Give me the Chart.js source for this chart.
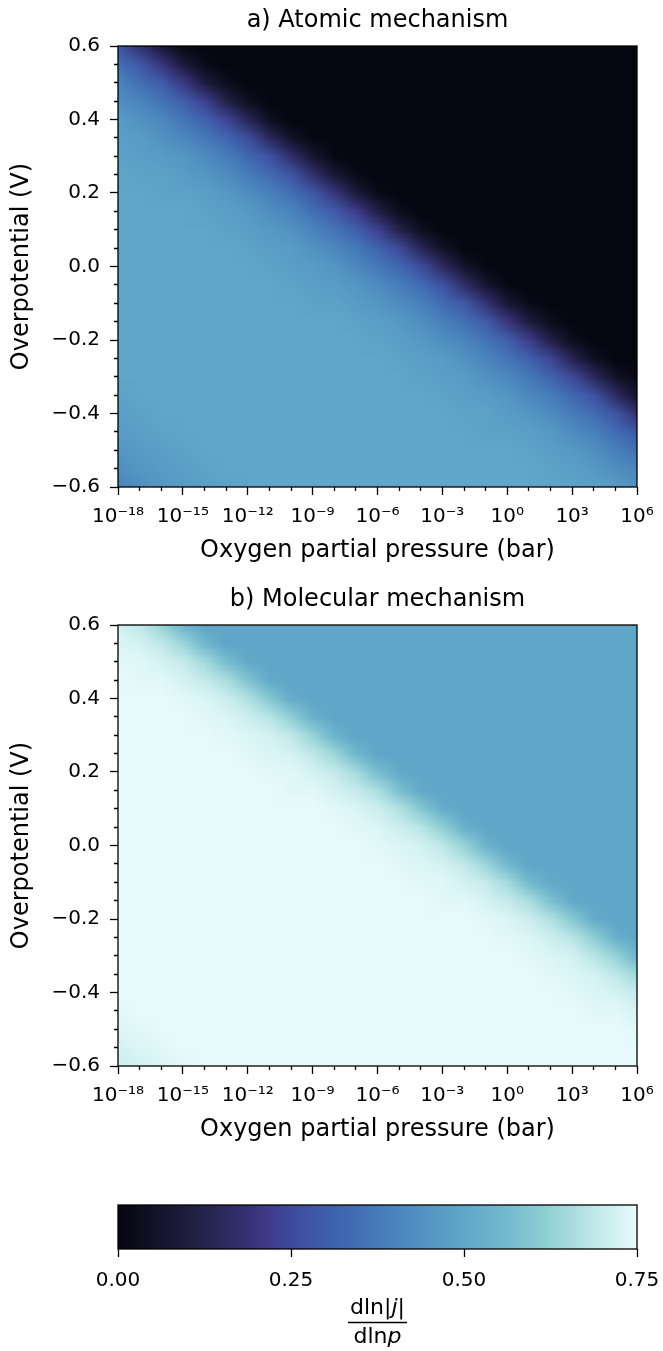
<!DOCTYPE html>
<html>
<head>
<meta charset="utf-8">
<script src="https://cdn.jsdelivr.net/npm/chart.js@4.4.0/dist/chart.umd.min.js"></script>
<style>
body { margin: 0; background: #fff; width: 663px; height: 1351px; position: relative; overflow: hidden; }
canvas { position: absolute; left: 0; }
</style>
</head>
<body>
<canvas id="atomicChart" width="663" height="571" style="top:0px"></canvas>
<canvas id="molecularChart" width="663" height="571" style="top:579px"></canvas>
<canvas id="colorbarChart" width="663" height="201" style="top:1150px"></canvas>
<script>
// grid nodes: log10 of oxygen pressure (columns) and overpotential (rows, top to bottom)
var exponents = [-18, -17, -16, -15, -14, -13, -12, -11, -10, -9, -8, -7, -6, -5, -4, -3, -2, -1, 0, 1, 2, 3, 4, 5, 6];
var potentials = [0.6, 0.55, 0.5, 0.45, 0.4, 0.35, 0.3, 0.25, 0.2, 0.15, 0.1, 0.05, 0, -0.05, -0.1, -0.15, -0.2, -0.25, -0.3, -0.35, -0.4, -0.45, -0.5, -0.55, -0.6];

// d ln|j| / d ln p, one row per potential
var atomicSlope = [
    [0.28,0.18,0.08,0.01,0,0,0,0,0,0,0,0,0,0,0,0,0,0,0,0,0,0,0,0,0],
    [0.35,0.29,0.20,0.09,0.02,0,0,0,0,0,0,0,0,0,0,0,0,0,0,0,0,0,0,0,0],
    [0.40,0.35,0.30,0.21,0.10,0.03,0,0,0,0,0,0,0,0,0,0,0,0,0,0,0,0,0,0,0],
    [0.43,0.40,0.36,0.31,0.23,0.12,0.04,0,0,0,0,0,0,0,0,0,0,0,0,0,0,0,0,0,0],
    [0.47,0.44,0.41,0.36,0.32,0.24,0.14,0.04,0,0,0,0,0,0,0,0,0,0,0,0,0,0,0,0,0],
    [0.48,0.47,0.44,0.41,0.37,0.33,0.26,0.15,0.05,0.01,0,0,0,0,0,0,0,0,0,0,0,0,0,0,0],
    [0.49,0.48,0.47,0.45,0.42,0.38,0.33,0.27,0.17,0.07,0.01,0,0,0,0,0,0,0,0,0,0,0,0,0,0],
    [0.50,0.49,0.49,0.47,0.45,0.42,0.38,0.34,0.28,0.18,0.08,0.02,0,0,0,0,0,0,0,0,0,0,0,0,0],
    [0.50,0.50,0.49,0.49,0.48,0.46,0.43,0.39,0.35,0.29,0.20,0.09,0.02,0,0,0,0,0,0,0,0,0,0,0,0],
    [0.50,0.50,0.50,0.50,0.49,0.48,0.46,0.43,0.40,0.35,0.30,0.22,0.11,0.03,0,0,0,0,0,0,0,0,0,0,0],
    [0.50,0.50,0.50,0.50,0.50,0.49,0.48,0.46,0.44,0.40,0.36,0.31,0.23,0.12,0.04,0,0,0,0,0,0,0,0,0,0],
    [0.50,0.50,0.50,0.50,0.50,0.50,0.49,0.48,0.47,0.44,0.41,0.37,0.32,0.25,0.14,0.05,0,0,0,0,0,0,0,0,0],
    [0.50,0.50,0.50,0.50,0.50,0.50,0.50,0.49,0.48,0.47,0.45,0.41,0.37,0.33,0.26,0.16,0.06,0.01,0,0,0,0,0,0,0],
    [0.50,0.50,0.50,0.50,0.50,0.50,0.50,0.50,0.49,0.48,0.47,0.45,0.42,0.38,0.34,0.27,0.17,0.07,0.01,0,0,0,0,0,0],
    [0.50,0.50,0.50,0.50,0.50,0.50,0.50,0.50,0.50,0.49,0.49,0.47,0.45,0.42,0.39,0.34,0.29,0.19,0.08,0.02,0,0,0,0,0],
    [0.50,0.50,0.50,0.50,0.50,0.50,0.50,0.50,0.50,0.50,0.50,0.49,0.48,0.46,0.43,0.39,0.35,0.30,0.20,0.10,0.03,0,0,0,0],
    [0.50,0.50,0.50,0.50,0.50,0.50,0.50,0.50,0.50,0.50,0.50,0.50,0.49,0.48,0.46,0.43,0.40,0.36,0.31,0.22,0.11,0.03,0,0,0],
    [0.50,0.50,0.50,0.50,0.50,0.50,0.50,0.50,0.50,0.50,0.50,0.50,0.50,0.49,0.48,0.47,0.44,0.40,0.36,0.31,0.24,0.13,0.04,0,0],
    [0.50,0.50,0.50,0.50,0.50,0.50,0.50,0.50,0.50,0.50,0.50,0.50,0.50,0.50,0.49,0.48,0.47,0.44,0.41,0.37,0.32,0.25,0.15,0.05,0.01],
    [0.49,0.50,0.50,0.50,0.50,0.50,0.50,0.50,0.50,0.50,0.50,0.50,0.50,0.50,0.50,0.49,0.48,0.47,0.45,0.41,0.38,0.33,0.27,0.16,0.06],
    [0.48,0.49,0.50,0.50,0.50,0.50,0.50,0.50,0.50,0.50,0.50,0.50,0.50,0.50,0.50,0.50,0.49,0.49,0.47,0.45,0.42,0.38,0.34,0.28,0.18],
    [0.47,0.48,0.49,0.50,0.50,0.50,0.50,0.50,0.50,0.50,0.50,0.50,0.50,0.50,0.50,0.50,0.50,0.49,0.49,0.48,0.46,0.42,0.39,0.34,0.29],
    [0.45,0.47,0.48,0.49,0.50,0.50,0.50,0.50,0.50,0.50,0.50,0.50,0.50,0.50,0.50,0.50,0.50,0.50,0.50,0.49,0.48,0.46,0.43,0.39,0.35],
    [0.43,0.45,0.47,0.48,0.49,0.50,0.50,0.50,0.50,0.50,0.50,0.50,0.50,0.50,0.50,0.50,0.50,0.50,0.50,0.50,0.49,0.48,0.46,0.43,0.40],
    [0.40,0.43,0.45,0.47,0.48,0.49,0.50,0.50,0.50,0.50,0.50,0.50,0.50,0.50,0.50,0.50,0.50,0.50,0.50,0.50,0.50,0.49,0.48,0.47,0.44]
];

var molecularSlope = [
    [0.72,0.69,0.63,0.54,0.50,0.50,0.50,0.50,0.50,0.50,0.50,0.50,0.50,0.50,0.50,0.50,0.50,0.50,0.50,0.50,0.50,0.50,0.50,0.50,0.50],
    [0.73,0.72,0.69,0.64,0.55,0.50,0.50,0.50,0.50,0.50,0.50,0.50,0.50,0.50,0.50,0.50,0.50,0.50,0.50,0.50,0.50,0.50,0.50,0.50,0.50],
    [0.74,0.74,0.72,0.70,0.65,0.57,0.51,0.50,0.50,0.50,0.50,0.50,0.50,0.50,0.50,0.50,0.50,0.50,0.50,0.50,0.50,0.50,0.50,0.50,0.50],
    [0.75,0.74,0.74,0.72,0.70,0.66,0.59,0.51,0.50,0.50,0.50,0.50,0.50,0.50,0.50,0.50,0.50,0.50,0.50,0.50,0.50,0.50,0.50,0.50,0.50],
    [0.75,0.75,0.75,0.74,0.73,0.71,0.67,0.60,0.52,0.50,0.50,0.50,0.50,0.50,0.50,0.50,0.50,0.50,0.50,0.50,0.50,0.50,0.50,0.50,0.50],
    [0.75,0.75,0.75,0.75,0.74,0.73,0.71,0.68,0.62,0.53,0.50,0.50,0.50,0.50,0.50,0.50,0.50,0.50,0.50,0.50,0.50,0.50,0.50,0.50,0.50],
    [0.75,0.75,0.75,0.75,0.75,0.74,0.73,0.72,0.69,0.63,0.54,0.50,0.50,0.50,0.50,0.50,0.50,0.50,0.50,0.50,0.50,0.50,0.50,0.50,0.50],
    [0.75,0.75,0.75,0.75,0.75,0.75,0.74,0.73,0.72,0.69,0.64,0.55,0.50,0.50,0.50,0.50,0.50,0.50,0.50,0.50,0.50,0.50,0.50,0.50,0.50],
    [0.75,0.75,0.75,0.75,0.75,0.75,0.75,0.74,0.74,0.72,0.70,0.65,0.57,0.51,0.50,0.50,0.50,0.50,0.50,0.50,0.50,0.50,0.50,0.50,0.50],
    [0.75,0.75,0.75,0.75,0.75,0.75,0.75,0.75,0.74,0.74,0.72,0.70,0.66,0.58,0.51,0.50,0.50,0.50,0.50,0.50,0.50,0.50,0.50,0.50,0.50],
    [0.75,0.75,0.75,0.75,0.75,0.75,0.75,0.75,0.75,0.75,0.74,0.73,0.71,0.67,0.60,0.52,0.50,0.50,0.50,0.50,0.50,0.50,0.50,0.50,0.50],
    [0.75,0.75,0.75,0.75,0.75,0.75,0.75,0.75,0.75,0.75,0.75,0.74,0.73,0.71,0.68,0.62,0.53,0.50,0.50,0.50,0.50,0.50,0.50,0.50,0.50],
    [0.75,0.75,0.75,0.75,0.75,0.75,0.75,0.75,0.75,0.75,0.75,0.75,0.74,0.73,0.72,0.69,0.63,0.54,0.50,0.50,0.50,0.50,0.50,0.50,0.50],
    [0.75,0.75,0.75,0.75,0.75,0.75,0.75,0.75,0.75,0.75,0.75,0.75,0.75,0.74,0.73,0.72,0.69,0.64,0.55,0.50,0.50,0.50,0.50,0.50,0.50],
    [0.75,0.75,0.75,0.75,0.75,0.75,0.75,0.75,0.75,0.75,0.75,0.75,0.75,0.75,0.74,0.74,0.72,0.70,0.65,0.56,0.51,0.50,0.50,0.50,0.50],
    [0.75,0.75,0.75,0.75,0.75,0.75,0.75,0.75,0.75,0.75,0.75,0.75,0.75,0.75,0.75,0.74,0.74,0.72,0.70,0.66,0.58,0.51,0.50,0.50,0.50],
    [0.75,0.75,0.75,0.75,0.75,0.75,0.75,0.75,0.75,0.75,0.75,0.75,0.75,0.75,0.75,0.75,0.75,0.74,0.73,0.71,0.67,0.60,0.52,0.50,0.50],
    [0.75,0.75,0.75,0.75,0.75,0.75,0.75,0.75,0.75,0.75,0.75,0.75,0.75,0.75,0.75,0.75,0.75,0.75,0.74,0.73,0.71,0.68,0.62,0.53,0.50],
    [0.75,0.75,0.75,0.75,0.75,0.75,0.75,0.75,0.75,0.75,0.75,0.75,0.75,0.75,0.75,0.75,0.75,0.75,0.75,0.74,0.73,0.72,0.68,0.63,0.54],
    [0.75,0.75,0.75,0.75,0.75,0.75,0.75,0.75,0.75,0.75,0.75,0.75,0.75,0.75,0.75,0.75,0.75,0.75,0.75,0.75,0.74,0.73,0.72,0.69,0.64],
    [0.75,0.75,0.75,0.75,0.75,0.75,0.75,0.75,0.75,0.75,0.75,0.75,0.75,0.75,0.75,0.75,0.75,0.75,0.75,0.75,0.75,0.74,0.73,0.72,0.70],
    [0.74,0.75,0.75,0.75,0.75,0.75,0.75,0.75,0.75,0.75,0.75,0.75,0.75,0.75,0.75,0.75,0.75,0.75,0.75,0.75,0.75,0.75,0.74,0.74,0.72],
    [0.73,0.74,0.75,0.75,0.75,0.75,0.75,0.75,0.75,0.75,0.75,0.75,0.75,0.75,0.75,0.75,0.75,0.75,0.75,0.75,0.75,0.75,0.75,0.75,0.74],
    [0.72,0.73,0.74,0.75,0.75,0.75,0.75,0.75,0.75,0.75,0.75,0.75,0.75,0.75,0.75,0.75,0.75,0.75,0.75,0.75,0.75,0.75,0.75,0.75,0.75],
    [0.71,0.72,0.73,0.74,0.75,0.75,0.75,0.75,0.75,0.75,0.75,0.75,0.75,0.75,0.75,0.75,0.75,0.75,0.75,0.75,0.75,0.75,0.75,0.75,0.75]
];

// colour map (dark navy -> purple -> blue -> ice white)
var cmapValues = [0, 0.06, 0.12, 0.18, 0.22, 0.27, 0.33, 0.40, 0.50, 0.56, 0.62, 0.68, 0.75];
var cmapColors = ['#05060f', '#14142c', '#232249', '#33306e', '#3f3b8c', '#3f52a4', '#3f68b1', '#4a85bd', '#5fa6c8', '#73b9cd', '#8fcfd3', '#b9e5e6', '#e8fbfb'];
var colorbarTicks = [0, 0.25, 0.5, 0.75];

var FONT = "'DejaVu Sans', sans-serif";
Chart.defaults.font.family = FONT;
Chart.defaults.color = '#000';

function hexToRgb(h) {
    return [parseInt(h.slice(1, 3), 16), parseInt(h.slice(3, 5), 16), parseInt(h.slice(5, 7), 16)];
}
var cmapRgb = cmapColors.map(hexToRgb);

function colorFor(v) {
    if (v <= cmapValues[0]) return cmapRgb[0];
    for (var i = 1; i < cmapValues.length; i++) {
        if (v <= cmapValues[i]) {
            var t = (v - cmapValues[i - 1]) / (cmapValues[i] - cmapValues[i - 1]);
            var a = cmapRgb[i - 1], b = cmapRgb[i];
            return [0, 1, 2].map(function (k) { return Math.round(a[k] + (b[k] - a[k]) * t); });
        }
    }
    return cmapRgb[cmapRgb.length - 1];
}

var SUP = {'-': '\u207B', '0': '\u2070', '1': '\u00B9', '2': '\u00B2', '3': '\u00B3', '4': '\u2074',
           '5': '\u2075', '6': '\u2076', '7': '\u2077', '8': '\u2078', '9': '\u2079'};
function powerLabel(e) {
    return '10' + String(e).split('').map(function (ch) { return SUP[ch]; }).join('');
}
function isMajorX(v) { return v % 3 === 0; }
function isMajorY(v) { return Math.abs(v * 5 - Math.round(v * 5)) < 1e-6; }
function noSidePadding(scale) {
    scale.paddingLeft = 0;
    scale.paddingRight = 0;
}

var heatmapPlugin = {
    id: 'heatmap',
    beforeDatasetsDraw: function (chart) {
        var pts = chart.data.datasets[0].data;
        var nc = exponents.length, nr = potentials.length;
        var off = document.createElement('canvas');
        off.width = nc;
        off.height = nr;
        var octx = off.getContext('2d');
        var img = octx.createImageData(nc, nr);
        pts.forEach(function (p, i) {
            var rgb = colorFor(p.v);
            img.data[i * 4] = rgb[0];
            img.data[i * 4 + 1] = rgb[1];
            img.data[i * 4 + 2] = rgb[2];
            img.data[i * 4 + 3] = 255;
        });
        octx.putImageData(img, 0, 0);

        var xs = chart.scales.x, ys = chart.scales.y;
        var x0 = xs.getPixelForValue(pts[0].x), x1 = xs.getPixelForValue(pts[nc - 1].x);
        var y0 = ys.getPixelForValue(pts[0].y), y1 = ys.getPixelForValue(pts[pts.length - 1].y);
        var ctx = chart.ctx;
        ctx.save();
        ctx.imageSmoothingEnabled = true;
        ctx.imageSmoothingQuality = 'low';
        ctx.drawImage(off, 0.5, 0.5, nc - 1, nr - 1, x0, y0, x1 - x0, y1 - y0);
        ctx.restore();
    },
    afterDraw: function (chart) {
        var a = chart.chartArea, ctx = chart.ctx;
        ctx.save();
        ctx.strokeStyle = '#000';
        ctx.lineWidth = 1.3;
        ctx.strokeRect(a.left, a.top, a.right - a.left, a.bottom - a.top);
        ctx.restore();
    }
};

function heatmapChart(canvasId, title, slope) {
    var points = [];
    potentials.forEach(function (pot, r) {
        exponents.forEach(function (ex, c) {
            points.push({x: ex, y: pot, v: slope[r][c]});
        });
    });
    return new Chart(document.getElementById(canvasId).getContext('2d'), {
        type: 'scatter',
        data: {
            datasets: [{
                data: points,
                pointRadius: 0,
                pointHoverRadius: 0
            }]
        },
        options: {
            responsive: false,
            animation: false,
            events: [],
            layout: {
                padding: { right: 26 }
            },
            plugins: {
                legend: { display: false },
                tooltip: { enabled: false },
                title: {
                    display: true,
                    fullSize: false,
                    text: title,
                    color: '#000',
                    font: { size: 24, weight: 'normal' },
                    padding: { top: 6.6, bottom: 10.6 }
                }
            },
            scales: {
                x: {
                    type: 'linear',
                    min: -18,
                    max: 6,
                    afterFit: function (scale) { scale.height = 84; noSidePadding(scale); },
                    afterBuildTicks: function (scale) {
                        scale.ticks = exponents.map(function (v) { return {value: v}; });
                    },
                    border: { display: false },
                    grid: {
                        drawOnChartArea: false,
                        tickLength: 8,
                        tickWidth: 1.3,
                        tickColor: '#000',
                        tickBorderDash: function (ctx) {
                            return isMajorX(ctx.tick.value) ? [] : [4, 20];
                        }
                    },
                    ticks: {
                        autoSkip: false,
                        maxRotation: 0,
                        padding: 10,
                        color: '#000',
                        font: { size: 20 },
                        callback: function (value) {
                            return isMajorX(value) ? powerLabel(value) : '';
                        }
                    },
                    title: {
                        display: true,
                        text: 'Oxygen partial pressure (bar)',
                        color: '#000',
                        font: { size: 24 },
                        padding: { top: 0, bottom: 5.6 }
                    }
                },
                y: {
                    type: 'linear',
                    min: -0.6,
                    max: 0.6,
                    afterFit: function (scale) { scale.width = 118; },
                    afterBuildTicks: function (scale) {
                        scale.ticks = potentials.map(function (v) { return {value: v}; });
                    },
                    border: { display: false },
                    grid: {
                        drawOnChartArea: false,
                        tickLength: 8,
                        tickWidth: 1.3,
                        tickColor: '#000',
                        tickBorderDash: function (ctx) {
                            return isMajorY(ctx.tick.value) ? [] : [0, 4, 4, 20];
                        }
                    },
                    ticks: {
                        autoSkip: false,
                        padding: 10,
                        color: '#000',
                        font: { size: 20 },
                        callback: function (value) {
                            return isMajorY(value) ? value.toFixed(1).replace('-', '\u2212') : '';
                        }
                    },
                    title: {
                        display: true,
                        text: 'Overpotential (V)',
                        color: '#000',
                        font: { size: 24 },
                        padding: { top: 7.6, bottom: 0 }
                    }
                }
            }
        },
        plugins: [heatmapPlugin]
    });
}

var atomicChart = heatmapChart('atomicChart', 'a) Atomic mechanism', atomicSlope);
var molecularChart = heatmapChart('molecularChart', 'b) Molecular mechanism', molecularSlope);

// colour bar
var colorbarPlugin = {
    id: 'colorbar',
    beforeDatasetsDraw: function (chart) {
        var a = chart.chartArea, xs = chart.scales.x, ctx = chart.ctx;
        var g0 = xs.getPixelForValue(cmapValues[0]);
        var g1 = xs.getPixelForValue(cmapValues[cmapValues.length - 1]);
        var grad = ctx.createLinearGradient(g0, 0, g1, 0);
        cmapValues.forEach(function (v, i) {
            grad.addColorStop((xs.getPixelForValue(v) - g0) / (g1 - g0), cmapColors[i]);
        });
        ctx.save();
        ctx.fillStyle = grad;
        ctx.fillRect(a.left, a.top, a.right - a.left, a.bottom - a.top);
        ctx.restore();
    },
    afterDraw: function (chart) {
        var a = chart.chartArea, ctx = chart.ctx;
        ctx.save();
        ctx.strokeStyle = '#000';
        ctx.lineWidth = 1.3;
        ctx.strokeRect(a.left, a.top, a.right - a.left, a.bottom - a.top);

        // label: dln|j| / dlnp
        var cx = (a.left + a.right) / 2;
        var normal = '22px ' + FONT, italic = 'italic 22px ' + FONT;
        function drawParts(parts, baseline) {
            var widths = parts.map(function (p) { ctx.font = p[1]; return ctx.measureText(p[0]).width; });
            var total = widths.reduce(function (s, w) { return s + w; }, 0);
            var x = cx - total / 2;
            ctx.textBaseline = 'alphabetic';
            ctx.textAlign = 'left';
            ctx.fillStyle = '#000';
            parts.forEach(function (p, i) { ctx.font = p[1]; ctx.fillText(p[0], x, baseline); x += widths[i]; });
            return total;
        }
        var w1 = drawParts([['dln|', normal], ['j', italic], ['|', normal]], 164);
        var w2 = drawParts([['dln', normal], ['p', italic]], 193);
        var w = Math.max(w1, w2) + 4;
        ctx.lineWidth = 1.4;
        ctx.beginPath();
        ctx.moveTo(cx - w / 2, 172.5);
        ctx.lineTo(cx + w / 2, 172.5);
        ctx.stroke();
        ctx.restore();
    }
};

var colorbarChart = new Chart(document.getElementById('colorbarChart').getContext('2d'), {
    type: 'scatter',
    data: { datasets: [] },
    options: {
        responsive: false,
        animation: false,
        events: [],
        layout: {
            padding: { left: 118, right: 26, top: 55 }
        },
        plugins: {
            legend: { display: false },
            tooltip: { enabled: false }
        },
        scales: {
            x: {
                type: 'linear',
                min: 0,
                max: 0.75,
                afterFit: function (scale) { scale.height = 102; noSidePadding(scale); },
                afterBuildTicks: function (scale) {
                    scale.ticks = colorbarTicks.map(function (v) { return {value: v}; });
                },
                border: { display: false },
                grid: {
                    drawOnChartArea: false,
                    tickLength: 8,
                    tickWidth: 1.3,
                    tickColor: '#000'
                },
                ticks: {
                    autoSkip: false,
                    maxRotation: 0,
                    padding: 12,
                    color: '#000',
                    font: { size: 20 },
                    callback: function (value) { return value.toFixed(2); }
                }
            },
            y: { display: false, min: 0, max: 1 }
        }
    },
    plugins: [colorbarPlugin]
});
</script>
</body>
</html>
